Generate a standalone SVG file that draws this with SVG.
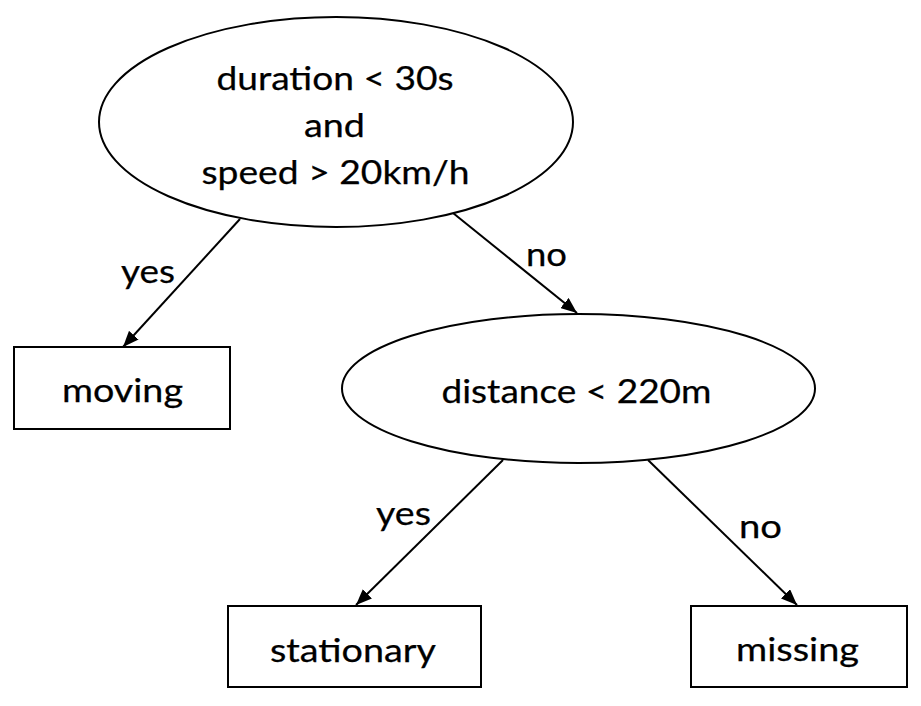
<svg xmlns="http://www.w3.org/2000/svg" width="921" height="706" viewBox="0 0 921 706">
<defs>
<style>
.shape{fill:#fff;stroke:#000;stroke-width:2}
.lbl{font-family:Lato,"Liberation Sans",sans-serif;font-size:32px;fill:#000;stroke:#000;stroke-width:0.25;text-anchor:middle}
.edge{stroke:#000;stroke-width:2;fill:none;marker-end:url(#arr)}
</style>
<marker id="arr" markerUnits="userSpaceOnUse" markerWidth="17" markerHeight="13" refX="16" refY="6.5" orient="auto">
<path d="M0,0 L16,6.5 L0,13 Z" fill="#000"/>
</marker>
</defs>
<rect width="921" height="706" fill="#fff"/>
<g id="connectors">
<line class="edge" x1="240" y1="219" x2="123" y2="347"/>
<line class="edge" x1="453" y1="213" x2="577" y2="313"/>
<line class="edge" x1="503" y1="460" x2="356" y2="605"/>
<line class="edge" x1="648" y1="460" x2="797" y2="605"/>
<text class="lbl" x="148" y="283" textLength="54" lengthAdjust="spacingAndGlyphs">yes</text>
<text class="lbl" x="546.5" y="266" textLength="41" lengthAdjust="spacingAndGlyphs">no</text>
<text class="lbl" x="403.5" y="525" textLength="55" lengthAdjust="spacingAndGlyphs">yes</text>
<text class="lbl" x="760.5" y="538" textLength="43" lengthAdjust="spacingAndGlyphs">no</text>
</g>
<g id="node-root">
<ellipse class="shape" cx="336" cy="122" rx="237" ry="105"/>
<text class="lbl" x="335" y="90" textLength="237" lengthAdjust="spacingAndGlyphs">duration &lt; 30s</text>
<text class="lbl" x="334.5" y="137" textLength="61" lengthAdjust="spacingAndGlyphs">and</text>
<text class="lbl" x="335.5" y="184" textLength="268" lengthAdjust="spacingAndGlyphs">speed &gt; 20km/h</text>
</g>
<g id="node-moving">
<rect class="shape" x="14" y="347" width="216" height="82"/>
<text class="lbl" x="122.5" y="402" textLength="121" lengthAdjust="spacingAndGlyphs">moving</text>
</g>
<g id="node-distance">
<ellipse class="shape" cx="578.5" cy="388.5" rx="236.5" ry="74.5"/>
<text class="lbl" x="576.5" y="403" textLength="270" lengthAdjust="spacingAndGlyphs">distance &lt; 220m</text>
</g>
<g id="node-stationary">
<rect class="shape" x="228" y="606" width="253" height="81"/>
<text class="lbl" x="353" y="662" textLength="166" lengthAdjust="spacingAndGlyphs">stationary</text>
</g>
<g id="node-missing">
<rect class="shape" x="691" y="606" width="216" height="81"/>
<text class="lbl" x="797.5" y="661" textLength="123" lengthAdjust="spacingAndGlyphs">missing</text>
</g>
</svg>
